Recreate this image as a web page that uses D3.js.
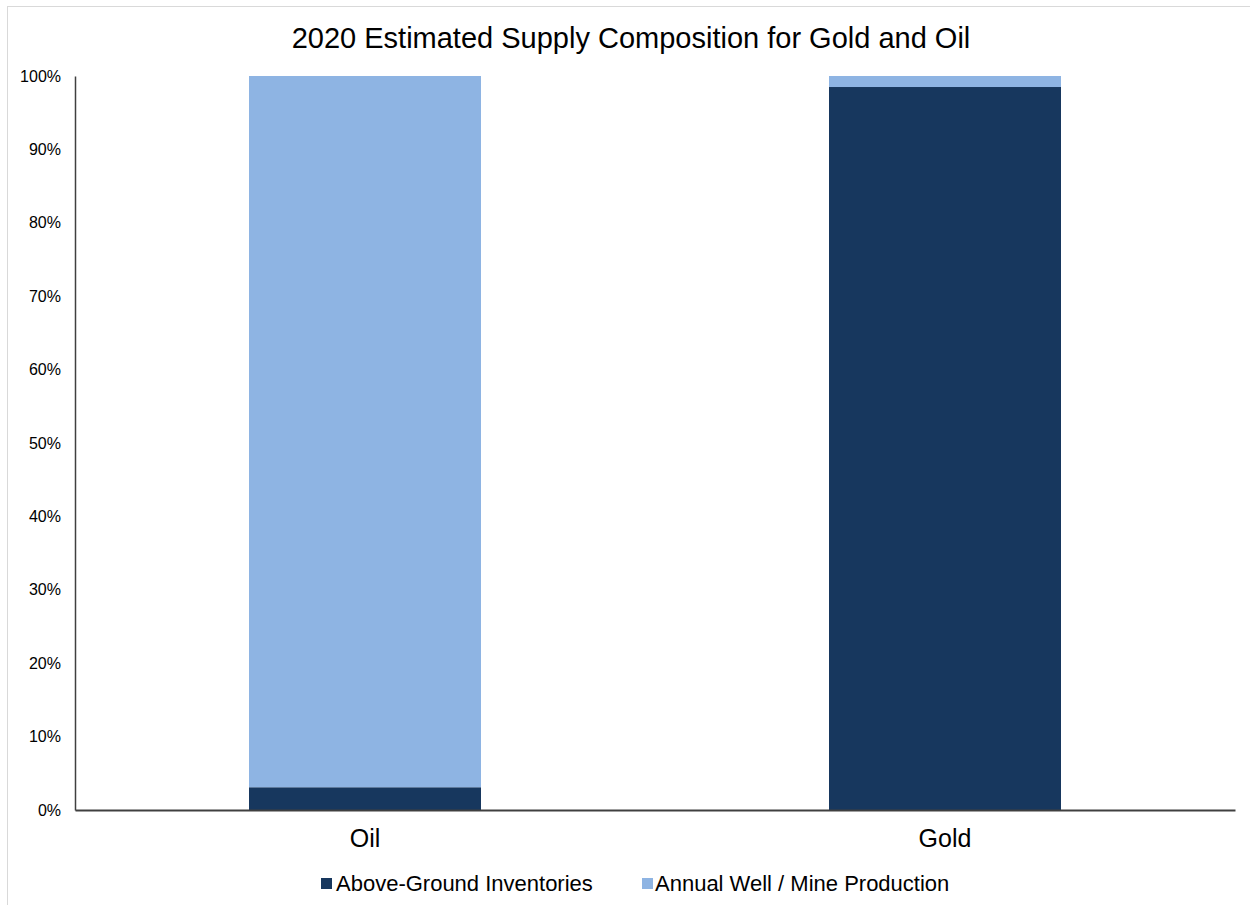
<!DOCTYPE html>
<html>
<head>
<meta charset="utf-8">
<script src="https://cdn.jsdelivr.net/npm/d3@7"></script>
<style>
  body { margin: 0; background: #fff; }
  svg { font-family: "Liberation Sans", Arial, sans-serif; }
</style>
</head>
<body>
<script>
const categories = ["Oil", "Gold"];
const seriesNames = ["Above-Ground Inventories", "Annual Well / Mine Production"];
const aboveGround = [0.031, 0.985];
const annualProduction = [0.969, 0.015];
const yTicks = [0, 0.1, 0.2, 0.3, 0.4, 0.5, 0.6, 0.7, 0.8, 0.9, 1.0];
const colors = ["#17375E", "#8EB4E3"];

const W = 1250, H = 905;
const mLeft = 75, mRight = 1235, mTop = 76, mBottom = 810;

const rows = categories.map((c, i) => ({cat: c, a: aboveGround[i], b: annualProduction[i]}));
const stack = d3.stack().keys(["a", "b"])(rows);

const svg = d3.select("body").append("svg")
  .attr("width", W)
  .attr("height", H);

// chart border
svg.append("rect")
  .attr("x", 7.5).attr("y", 6.5)
  .attr("width", W).attr("height", H - 4)
  .attr("fill", "none")
  .attr("stroke", "#d9d9d9");

svg.append("text")
  .attr("x", 631).attr("y", 48)
  .attr("text-anchor", "middle")
  .attr("font-size", 29)
  .attr("fill", "#000")
  .text("2020 Estimated Supply Composition for Gold and Oil");

const x = d3.scaleBand()
  .domain(categories)
  .range([mLeft, mRight])
  .paddingInner(0.6)
  .paddingOuter(0.3);

const y = d3.scaleLinear()
  .domain([0, 1])
  .range([mBottom, mTop]);

svg.selectAll("g.series")
  .data(stack)
  .enter()
  .append("g")
    .attr("class", "series")
    .attr("fill", (d, i) => colors[i])
  .selectAll("rect")
  .data(d => d)
  .enter()
  .append("rect")
    .attr("x", d => x(d.data.cat))
    .attr("y", d => y(d[1]))
    .attr("width", x.bandwidth())
    .attr("height", d => y(d[0]) - y(d[1]));

const yAxis = d3.axisLeft(y)
  .tickValues(yTicks)
  .tickFormat(d3.format(".0%"))
  .tickSize(0)
  .tickPadding(14);

const yg = svg.append("g")
  .attr("transform", `translate(${mLeft}, 0)`)
  .call(yAxis);
yg.select(".domain").attr("stroke", "#404040").attr("stroke-width", 1.5);
yg.selectAll("text")
  .attr("font-size", 16)
  .attr("font-family", "Liberation Sans, Arial, sans-serif")
  .attr("fill", "#000");

const xAxis = d3.axisBottom(x).tickSize(0).tickPadding(19);
const xg = svg.append("g")
  .attr("transform", `translate(0, ${mBottom})`)
  .call(xAxis);
xg.select(".domain").attr("stroke", "#404040").attr("stroke-width", 2);
xg.selectAll("text")
  .attr("font-size", 25)
  .attr("font-family", "Liberation Sans, Arial, sans-serif")
  .attr("fill", "#000");

// legend
const legendX = [321, 642];
const legend = svg.selectAll("g.legend")
  .data(seriesNames)
  .enter()
  .append("g")
    .attr("class", "legend")
    .attr("transform", (d, i) => `translate(${legendX[i]}, 883)`);
legend.append("rect")
  .attr("x", 0).attr("y", -5)
  .attr("width", 11).attr("height", 11)
  .attr("fill", (d, i) => colors[i]);
legend.append("text")
  .attr("x", (d, i) => i === 0 ? 15 : 13)
  .attr("y", 8)
  .attr("font-size", 22)
  .attr("fill", "#000")
  .text(d => d);
</script>
</body>
</html>
